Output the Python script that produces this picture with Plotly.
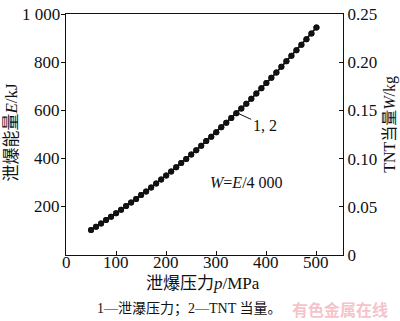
import plotly.graph_objects as go

# Data
pressure_mpa = [50, 60, 70, 80, 90, 100, 110, 120, 130, 140, 150, 160, 170, 180, 190,
                200, 210, 220, 230, 240, 250, 260, 270, 280, 290, 300, 310, 320, 330,
                340, 350, 360, 370, 380, 390, 400, 410, 420, 430, 440, 450, 460, 470,
                480, 490, 500]
energy_kj = [104, 117, 131, 145, 159, 173, 188, 203, 218, 233, 249, 264, 280, 297, 313,
             330, 347, 364, 382, 399, 417, 435, 454, 473, 491, 510, 530, 549, 569,
             588, 608, 628, 649, 670, 692, 714, 736, 758, 781, 804, 827, 850, 873,
             896, 920, 944]
tnt_kg = [e / 4000 for e in energy_kj]  # W = E/4000

x_ticks = [0, 100, 200, 300, 400, 500]
x_ticktext = ["0", "100", "200", "300", "400", "500"]
y_ticks = [200, 400, 600, 800, 1000]
y_ticktext = ["200", "400", "600", "800", "1 000"]
y2_ticks = [0, 0.05, 0.10, 0.15, 0.20, 0.25]
y2_ticktext = ["0", "0.05", "0.10", "0.15", "0.20", "0.25"]

W, H = 400, 321
L, R, T, B = 66, 57, 5, 66
PW, PH = W - L - R, H - T - B

def px(xp):
    return (xp - L) / PW

def py(yp):
    return (H - B - yp) / PH

SERIF = "Liberation Serif, Noto Sans CJK SC"
CJK = "Noto Sans CJK SC"
BLACK = "#111111"

fig = go.Figure()
fig.add_trace(go.Scatter(
    x=pressure_mpa, y=energy_kj, mode="lines+markers",
    line=dict(color=BLACK, width=1.5),
    marker=dict(color=BLACK, size=6),
    showlegend=False, hoverinfo="x+y"))
fig.add_trace(go.Scatter(
    x=pressure_mpa, y=tnt_kg, yaxis="y2", mode="lines+markers",
    line=dict(color=BLACK, width=1.5),
    marker=dict(color=BLACK, size=6),
    showlegend=False, hoverinfo="x+y"))

axis_common = dict(showline=True, linecolor=BLACK, linewidth=1.2, showgrid=False,
                   zeroline=False, tickcolor=BLACK, ticklen=4, tickwidth=1,
                   tickfont=dict(family=SERIF, size=17, color=BLACK))

fig.update_layout(
    width=W, height=H,
    margin=dict(l=L, r=R, t=T, b=B),
    paper_bgcolor="white", plot_bgcolor="white",
    xaxis=dict(range=[0, 553], tickvals=x_ticks, ticks="inside", mirror=True,
               showticklabels=False, **axis_common),
    yaxis=dict(range=[0, 1000.5], tickvals=y_ticks, ticks="outside",
               showticklabels=False, **axis_common),
    yaxis2=dict(range=[0, 0.250125], tickvals=y2_ticks, ticktext=y2_ticktext,
                overlaying="y", side="right", ticks="inside",
                ticklabeloverflow="allow", **axis_common),
)

ann = []
# tick labels placed as text at the axis values
for v, t in zip(x_ticks, x_ticktext):
    ann.append(dict(xref="x", yref="paper", x=v, y=py(263), text=t, showarrow=False,
                    xanchor="center", yanchor="middle",
                    font=dict(family=SERIF, size=17, color=BLACK)))
for v, t in zip(y_ticks, y_ticktext):
    ann.append(dict(xref="paper", yref="y", x=px(62), y=v, text=t, showarrow=False,
                    xanchor="right", yanchor="middle",
                    font=dict(family=SERIF, size=17, color=BLACK)))

def text(x, y, s, size, color=BLACK, angle=0, family=SERIF):
    ann.append(dict(xref="paper", yref="paper", x=px(x), y=py(y), text=s,
                    showarrow=False, xanchor="center", yanchor="middle",
                    textangle=angle, font=dict(family=family, size=size, color=color)))

text(203, 285, "泄爆压力<i>p</i>/MPa", 17)
text(12, 128, "泄爆能量<i>E</i>/kJ", 17, angle=-90)
text(390, 120, "TNT当量<i>W</i>/kg", 16, angle=-90)
text(189, 311, "1—泄瀑压力；2—TNT 当量。", 14)
text(340, 311, "<b>有色金属在线</b>", 16, color="#f6c3ca", family=CJK)
text(246, 180, "<i>W</i>=<i>E</i>/4 000", 16)

ann.append(dict(xref="x", yref="y", x=344.6, y=587, text="1, 2", showarrow=True,
                arrowhead=0, arrowwidth=1, arrowcolor=BLACK, ax=26, ay=12,
                standoff=0, font=dict(family=SERIF, size=16, color=BLACK)))

fig.update_layout(annotations=ann)
fig.write_html("out.html")
